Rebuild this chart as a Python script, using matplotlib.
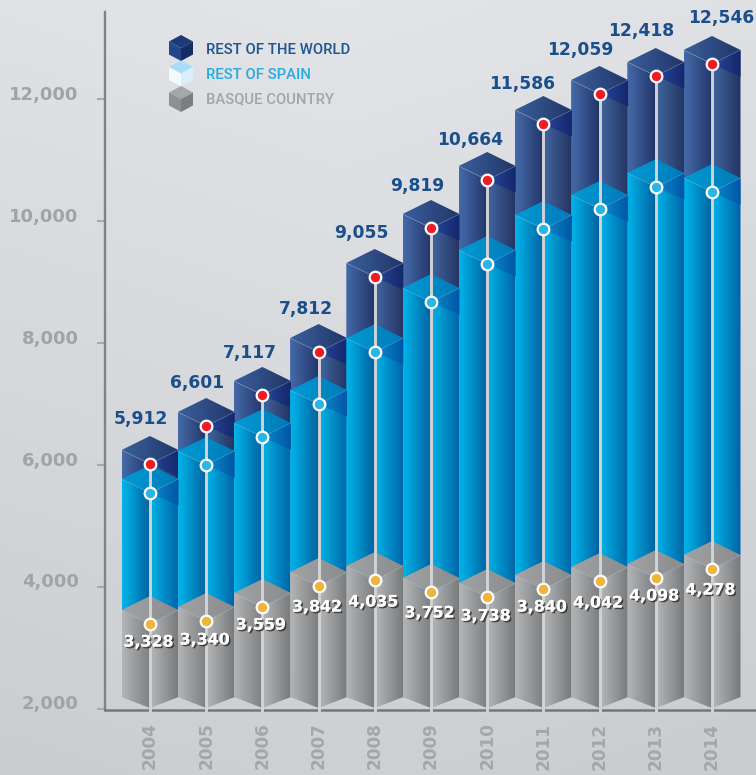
import numpy as np
import matplotlib
matplotlib.use("Agg")
import matplotlib.pyplot as plt
import matplotlib.patheffects as pe
from matplotlib.colors import LinearSegmentedColormap
from matplotlib.patches import Polygon
from matplotlib.transforms import ScaledTranslation

years = [2004, 2005, 2006, 2007, 2008, 2009, 2010, 2011, 2012, 2013, 2014]

# printed figures
total_labels = [5912, 6601, 7117, 7812, 9055, 9819, 10664, 11586, 12059, 12418, 12546]
basque_labels = [3328, 3340, 3559, 3842, 4035, 3752, 3738, 3840, 4042, 4098, 4278]

# heights of the dots read against the y axis (they sit a bit off the printed figures)
world_level = [6016, 6639, 7148, 7852, 9082, 9885, 10672, 11590, 12082, 12377, 12574]
spain_level = [5541, 6000, 6459, 7000, 7852, 8672, 9295, 9869, 10197, 10557, 10475]
basque_level = [3393, 3443, 3672, 4016, 4115, 3918, 3836, 3967, 4098, 4148, 4295]
base_level = 2016

y_ticks = [2000, 4000, 6000, 8000, 10000, 12000]

legend_names = ["REST OF THE WORLD", "REST OF SPAIN", "BASQUE COUNTRY"]
legend_colors = ["#1f5590", "#29abe2", "#a3a5a8"]

# label nudges in px from the red dot
total_dx = [-9, -9, -13, -13, -13, -14, -17, -21, -19, -15, 9]
total_dy = [45, 43, 42, 43, 44, 42, 40, 40, 44, 45, 46]
basque_dy = [18, 19, 18, 21, 22, 21, 19, 18, 22, 18, 21]

W, H = 756, 775
PX_PER_YEAR = 56.2
PX_PER_UNIT = 0.061
half_w = 28.5 / PX_PER_YEAR
rise = 14 / PX_PER_UNIT

plt.rcParams["font.family"] = ["DejaVu Sans"]

fig = plt.figure(figsize=(W / 100, H / 100), dpi=100)

# page background
bg = fig.add_axes([0, 0, 1, 1], zorder=-1)
xx, yy = np.meshgrid(np.linspace(0, 1, 60), np.linspace(0, 1, 60))
shade = 0.895 - 0.08 * yy - 0.025 * np.abs(xx - 0.45)
page = np.dstack([shade - 0.004, shade, shade + 0.012])
bg.imshow(np.clip(page, 0, 1), aspect="auto", extent=(0, 1, 1, 0), interpolation="bilinear")
bg.axis("off")

ax = fig.add_axes([105 / W, 1 - 710 / H, 1 - 105 / W, (710 - 12) / H])
ax.patch.set_alpha(0)
ax.set_xlim(2004 - 45 / PX_PER_YEAR, 2004 + 606 / PX_PER_YEAR)
ax.set_ylim(2000 - 1 / PX_PER_UNIT, 2000 + 697 / PX_PER_UNIT)
ax.set_autoscale_on(False)


def gradient_face(axis, verts, c0, c1, z):
    verts = np.array(verts)
    cmap = LinearSegmentedColormap.from_list("f", [c0, c1])
    ext = (verts[:, 0].min(), verts[:, 0].max(), verts[:, 1].min(), verts[:, 1].max())
    im = axis.imshow(np.linspace(0, 1, 32)[None, :], cmap=cmap, extent=ext, aspect="auto",
                     interpolation="bilinear", zorder=z, origin="lower")
    poly = Polygon(verts, closed=True, transform=axis.transData, fc="none", ec="none")
    axis.add_patch(poly)
    im.set_clip_path(poly)


def draw_block(x, top, bottom, bottom_rise, style, z):
    left, right = x - half_w, x + half_w
    gradient_face(ax, [(left, top + rise), (x, top), (x, bottom), (left, bottom + bottom_rise)],
                  style["left"][0], style["left"][1], z)
    gradient_face(ax, [(x, top), (right, top + rise), (right, bottom + bottom_rise), (x, bottom)],
                  style["right"][0], style["right"][1], z)
    if style.get("shadow"):
        gradient_face(ax, [(x, top), (right, top + rise), (right, top - 0.9 * rise)],
                      style["shadow"][0], style["shadow"][1], z + 0.1)
    gradient_face(ax, [(left, top + rise), (x, top + 2 * rise), (right, top + rise), (x, top)],
                  style["top"][0], style["top"][1], z + 0.2)
    ax.plot([left, x, right], [top + rise, top, top + rise], color="white", alpha=0.18,
            lw=0.6, zorder=z + 0.3)


world_style = {"left": ("#446aa8", "#23356a"), "right": ("#41659f", "#243462"),
               "top": ("#3a5f9c", "#223669"), "shadow": ("#28489a", "#14276c")}
spain_style = {"left": ("#00b5ea", "#00609f"), "right": ("#00b3e8", "#0064a6"),
               "top": ("#009cd4", "#0079b8"), "shadow": ("#0b8ccd", "#0056a6")}
basque_style = {"left": ("#b3b4b6", "#7d7e80"), "right": ("#b5b6b7", "#78797b"),
                "top": ("#a2a3a5", "#8a8b8d")}

for i, year in enumerate(years):
    draw_block(year, world_level[i], spain_level[i], rise, world_style, 2)
    draw_block(year, spain_level[i], basque_level[i], rise, spain_style, 3)
    draw_block(year, basque_level[i], base_level, 11 / PX_PER_UNIT, basque_style, 4)

ax.vlines(years, 2000 - 5 / PX_PER_UNIT, world_level, color="#d2d3d5", lw=2.1, zorder=5, clip_on=False)
for level, color in [(world_level, "#ed1c24"), (spain_level, "#29b5e8"), (basque_level, "#f0b43c")]:
    ax.scatter(years, level, s=70, color=color, edgecolor="white", linewidth=1.6, zorder=6)

for i, year in enumerate(years):
    ax.annotate(f"{total_labels[i]:,}", (year, world_level[i]),
                xytext=(total_dx[i] * 0.72, total_dy[i] * 0.72), textcoords="offset points",
                ha="center", va="center", fontsize=12.3, fontweight="bold", color="#1b4f8c",
                annotation_clip=False, zorder=7)
    ax.annotate(f"{basque_labels[i]:,}", (year, basque_level[i]),
                xytext=(-1.5 * 0.72, -basque_dy[i] * 0.72), textcoords="offset points",
                ha="center", va="center", fontsize=11.4, fontweight="bold", color="white", zorder=7,
                path_effects=[pe.withSimplePatchShadow(offset=(1.2, -1.2), shadow_rgbFace="#222222", alpha=0.7),
                              pe.Normal()])

ax.spines["top"].set_visible(False)
ax.spines["right"].set_visible(False)
ax.spines["left"].set_color("#808286")
ax.spines["left"].set_linewidth(1.7)
ax.spines["bottom"].set_color("#75777a")
ax.spines["bottom"].set_linewidth(1.8)

ax.set_yticks(y_ticks)
ax.set_yticklabels([f"{v:,}" for v in y_ticks], fontsize=13, fontweight="bold", color="#a2a3a7")
ax.tick_params(axis="y", length=6, width=1.5, color="#a9aaad", pad=13)
for lab in ax.get_yticklabels():
    lab.set_transform(lab.get_transform() + ScaledTranslation(0, 6.5 / 100, fig.dpi_scale_trans))

ax.set_xticks(years)
ax.set_xticklabels(years, rotation=90, fontsize=12.2, fontweight="bold", color="#a5a6aa")
ax.tick_params(axis="x", length=0, pad=9)

# legend, drawn in page pixels
top_ax = fig.add_axes([0, 0, 1, 1], zorder=10)
top_ax.set_xlim(0, W)
top_ax.set_ylim(H, 0)
top_ax.axis("off")
cube_colors = [("#1c3a7a", "#24478c", "#142b63"), ("#a9dcf7", "#f3fafe", "#d8effb"), ("#a6a7a9", "#8d8f92", "#7b7d80")]
for i, name in enumerate(legend_names):
    cy = 48 + 25.5 * i
    cx, r, s = 181, 12, 6.5
    c_top, c_left, c_right = cube_colors[i]
    top_ax.add_patch(Polygon([(cx - r, cy - s), (cx, cy - 2 * s), (cx + r, cy - s), (cx, cy)], fc=c_top, ec="none"))
    top_ax.add_patch(Polygon([(cx - r, cy - s), (cx, cy), (cx, cy + 2 * s), (cx - r, cy + s)], fc=c_left, ec="none"))
    top_ax.add_patch(Polygon([(cx + r, cy - s), (cx, cy), (cx, cy + 2 * s), (cx + r, cy + s)], fc=c_right, ec="none"))
    top_ax.text(206, 50.5 + 24.5 * i, name, color=legend_colors[i], fontsize=10.7, fontweight=500,
                family="Roboto", va="center", ha="left")

fig.savefig("out.png", dpi=100)
